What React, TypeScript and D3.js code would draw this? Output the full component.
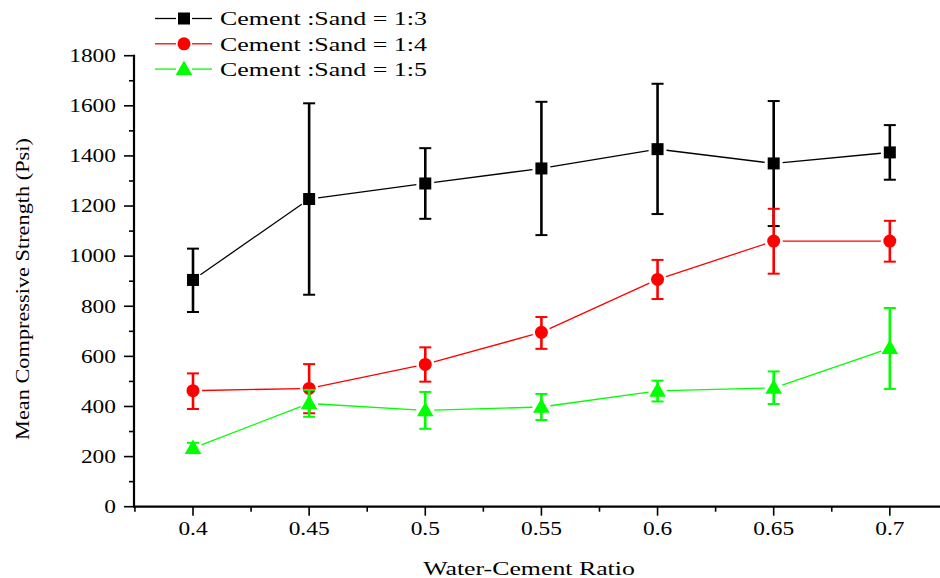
import React from "react";
import * as d3 from "d3";

const ratios = [0.4, 0.45, 0.5, 0.55, 0.6, 0.65, 0.7];
const mix13 = [905, 1228, 1290, 1350, 1427, 1370, 1414];
const mix13Hi = [1030, 1610, 1431, 1616, 1688, 1619, 1523];
const mix13Lo = [777, 846, 1149, 1084, 1168, 1120, 1305];
const mix14 = [463, 472, 568, 696, 907, 1060, 1060];
const mix14Hi = [532, 569, 636, 757, 985, 1189, 1141];
const mix14Lo = [390, 373, 499, 630, 829, 930, 978];
const mix15 = [234, 412, 384, 398, 462, 474, 633];
const mix15Hi = [255, 466, 458, 450, 503, 540, 793];
const mix15Lo = [214, 359, 311, 346, 420, 410, 470];
const seriesNames = ["Cement :Sand = 1:3", "Cement :Sand = 1:4", "Cement :Sand = 1:5"];
const xTicks = [0.4, 0.45, 0.5, 0.55, 0.6, 0.65, 0.7];
const yTicks = [0, 200, 400, 600, 800, 1000, 1200, 1400, 1600, 1800];

const W = 940, H = 578;
const FONT = "'Liberation Serif', 'Times New Roman', serif";

function SText(props: { x: number; y: number; sx: number; size: number; anchor?: string; dy?: string; rotate?: boolean; children: any }) {
  const { x, y, sx, size, anchor, dy, rotate, children } = props;
  const tr = rotate
    ? `translate(${x},${y}) rotate(-90) scale(${sx},1)`
    : `translate(${x},${y}) scale(${sx},1)`;
  return (
    <text transform={tr} textAnchor={anchor || "start"} dy={dy} fontSize={size}>
      {children}
    </text>
  );
}

export default function App() {
  const x = d3.scaleLinear().domain([0.3746, 0.7216]).range([134, 940]);
  const y = d3.scaleLinear().domain([0, 1800]).range([506.7, 55.7]);

  const series = [
    { name: seriesNames[0], v: mix13, hi: mix13Hi, lo: mix13Lo, color: "#000000", line: "#000000", shape: "square" },
    { name: seriesNames[1], v: mix14, hi: mix14Hi, lo: mix14Lo, color: "#ff0000", line: "#ff0000", shape: "circle" },
    { name: seriesNames[2], v: mix15, hi: mix15Hi, lo: mix15Lo, color: "#00ff00", line: "#00ff00", shape: "triangle" },
  ];

  const marker = (shape: string, cx: number, cy: number, color: string, key?: string) => {
    if (shape === "square") return <rect key={key} x={cx - 6} y={cy - 6} width={12} height={12} fill={color} />;
    if (shape === "circle") return <circle key={key} cx={cx} cy={cy} r={6.5} fill={color} />;
    const t = d3.symbol(d3.symbolTriangle, 120)() as string;
    return <path key={key} d={t} transform={`translate(${cx},${cy + 1})`} fill={color} />;
  };

  const gap = 9;
  const segs = (s: any) => {
    const out: any[] = [];
    for (let i = 0; i < ratios.length - 1; i++) {
      const x1 = x(ratios[i]), y1 = y(s.v[i]), x2 = x(ratios[i + 1]), y2 = y(s.v[i + 1]);
      const dx = x2 - x1, dy = y2 - y1, L = Math.hypot(dx, dy);
      const ux = dx / L, uy = dy / L;
      out.push(
        <line key={i} x1={x1 + ux * gap} y1={y1 + uy * gap} x2={x2 - ux * gap} y2={y2 - uy * gap}
          stroke={s.line} strokeWidth={1.3} />
      );
    }
    return out;
  };

  const yMinor = d3.range(100, 1800, 200);
  const xMinor = [0.375, 0.425, 0.475, 0.525, 0.575, 0.625, 0.675, 0.725].filter((v) => x(v) <= 940);

  return (
    <svg width={W} height={H} style={{ position: "absolute", left: 0, top: 0, background: "#fff" }}
      fontFamily={FONT}>
      {/* axes */}
      <line x1={134} y1={y(0)} x2={940} y2={y(0)} stroke="#000" strokeWidth={2.2} />
      <line x1={134} y1={y(0) + 1} x2={134} y2={y(1800) - 1} stroke="#000" strokeWidth={2.2} />
      {yTicks.map((t) => (
        <g key={"yt" + t}>
          <line x1={124} x2={134} y1={y(t)} y2={y(t)} stroke="#000" strokeWidth={1.6} />
          <SText x={116} y={y(t)} sx={1.3} size={18} anchor="end" dy="0.35em">{t}</SText>
        </g>
      ))}
      {yMinor.map((t) => (
        <line key={"ym" + t} x1={129} x2={134} y1={y(t)} y2={y(t)} stroke="#000" strokeWidth={1.6} />
      ))}
      {xTicks.map((t) => (
        <g key={"xt" + t}>
          <line x1={x(t)} x2={x(t)} y1={y(0)} y2={y(0) + 9} stroke="#000" strokeWidth={1.6} />
          <SText x={x(t)} y={535} sx={1.3} size={18} anchor="middle">{String(t)}</SText>
        </g>
      ))}
      {xMinor.map((t) => (
        <line key={"xm" + t} x1={x(t)} x2={x(t)} y1={y(0)} y2={y(0) + 5} stroke="#000" strokeWidth={1.6} />
      ))}
      <SText x={529} y={575} sx={1.36} size={19} anchor="middle">Water-Cement Ratio</SText>
      <SText x={29} y={289} sx={1.24} size={18} anchor="middle" rotate>Mean Compressive Strength (Psi)</SText>

      {/* series */}
      {series.map((s, si) => (
        <g key={"s" + si}>
          {segs(s)}
          {ratios.map((r, i) => (
            <g key={"e" + i} stroke={s.color} strokeWidth={2.6}>
              <line x1={x(r)} x2={x(r)} y1={y(s.hi[i])} y2={y(s.lo[i])} />
              <line x1={x(r) - 6} x2={x(r) + 6} y1={y(s.hi[i])} y2={y(s.hi[i])} strokeWidth={2} />
              <line x1={x(r) - 6} x2={x(r) + 6} y1={y(s.lo[i])} y2={y(s.lo[i])} strokeWidth={2} />
            </g>
          ))}
          {ratios.map((r, i) => marker(s.shape, x(r), y(s.v[i]), s.color, "m" + i))}
        </g>
      ))}

      {/* legend */}
      {series.map((s, i) => {
        const cy = 18.5 + i * 25.3;
        return (
          <g key={"lg" + i}>
            <line x1={155} x2={176} y1={cy} y2={cy} stroke={s.line} strokeWidth={1.3} />
            <line x1={192} x2={212} y1={cy} y2={cy} stroke={s.line} strokeWidth={1.3} />
            {marker(s.shape, 184, cy, s.color)}
            <SText x={220} y={cy} sx={1.33} size={19.5} dy="0.35em">{s.name}</SText>
          </g>
        );
      })}
    </svg>
  );
}
